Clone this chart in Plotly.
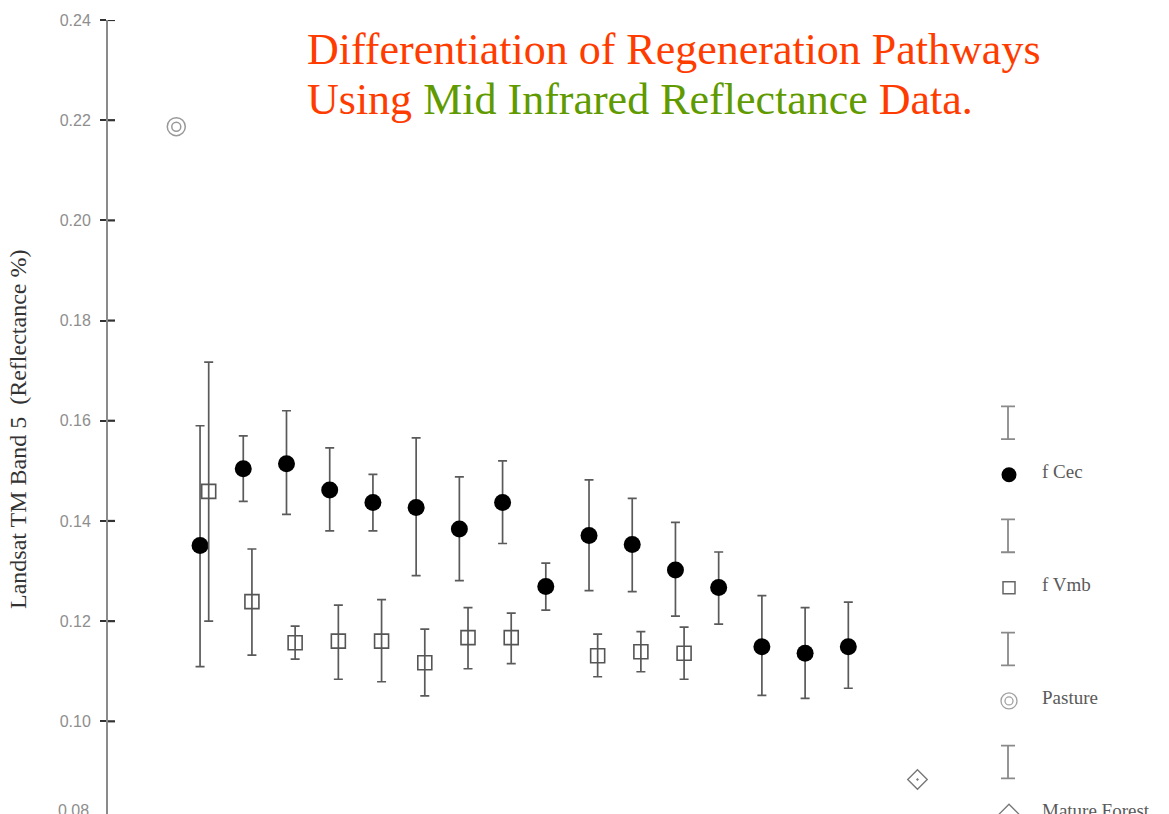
import plotly.graph_objects as go

# Mean Landsat TM band 5 reflectance per regeneration age class, with error-bar bounds
cec_class = [1, 2, 3, 4, 5, 6, 7, 8, 9, 10, 11, 12, 13, 14, 15, 16]
cec_mean = [0.1351, 0.1504, 0.1514, 0.1462, 0.1437, 0.1427, 0.1384, 0.1437,
            0.1269, 0.1371, 0.1353, 0.1302, 0.1267, 0.1149, 0.1136, 0.1149]
cec_high = [0.1590, 0.1570, 0.1620, 0.1546, 0.1493, 0.1566, 0.1488, 0.1520,
            0.1316, 0.1482, 0.1445, 0.1397, 0.1338, 0.1251, 0.1227, 0.1238]
cec_low = [0.1109, 0.1439, 0.1413, 0.1380, 0.1380, 0.1291, 0.1281, 0.1355,
           0.1222, 0.1261, 0.1259, 0.1210, 0.1194, 0.1052, 0.1046, 0.1066]

vmb_class = [1, 2, 3, 4, 5, 6, 7, 8, 10, 11, 12]
vmb_mean = [0.1459, 0.1239, 0.1157, 0.1160, 0.1160, 0.1117, 0.1167, 0.1167,
            0.1131, 0.1139, 0.1136]
vmb_high = [0.1717, 0.1344, 0.1190, 0.1232, 0.1243, 0.1184, 0.1227, 0.1216,
            0.1174, 0.1179, 0.1188]
vmb_low = [0.1200, 0.1132, 0.1124, 0.1084, 0.1079, 0.1051, 0.1105, 0.1115,
           0.1089, 0.1099, 0.1084]

pasture_pos = [0.45]
pasture_val = [0.2187]
forest_pos = [17.6]
forest_val = [0.0884]

y_ticks = [0.10, 0.12, 0.14, 0.16, 0.18, 0.20, 0.22, 0.24]
legend_names = ["f Cec", "f Vmb", "Pasture", "Mature Forest"]

W, H = 1169, 814
ML, MT = 108, 20
PW, PH = W - ML, H - MT


def px_x(p):
    return (p - ML) / PW


def px_y(p):
    return (H - p) / PH


BAR = "#5a5a5a"
GREY = "#777777"
TICK = "#333333"
SERIF = "Liberation Serif, Times New Roman, serif"
SANS = "Liberation Sans, Arial, sans-serif"

fig = go.Figure()

# f Cec: filled black circles
fig.add_trace(go.Scatter(
    x=cec_class, y=cec_mean, mode="markers",
    marker=dict(symbol="circle", size=17, color="black"),
    error_y=dict(type="data", symmetric=False,
                 array=[h - m for h, m in zip(cec_high, cec_mean)],
                 arrayminus=[m - l for m, l in zip(cec_mean, cec_low)],
                 color=BAR, thickness=1.7, width=4.5),
    showlegend=False, cliponaxis=False,
))

# f Vmb: open squares, offset to the right of the class centre
fig.add_trace(go.Scatter(
    x=[c + 0.2 for c in vmb_class], y=vmb_mean, mode="markers",
    marker=dict(symbol="square-open", size=14, color="#555555",
                line=dict(width=1.6)),
    error_y=dict(type="data", symmetric=False,
                 array=[h - m for h, m in zip(vmb_high, vmb_mean)],
                 arrayminus=[m - l for m, l in zip(vmb_mean, vmb_low)],
                 color=BAR, thickness=1.7, width=4.5),
    showlegend=False, cliponaxis=False,
))

# Pasture: concentric open circles
fig.add_trace(go.Scatter(x=pasture_pos * 2, y=pasture_val * 2, mode="markers",
                         marker=dict(symbol="circle-open", size=[18, 9], color="#6e6e6e",
                                     line=dict(width=1.5)),
                         showlegend=False))

# Mature forest: open diamond with centre dot
fig.add_trace(go.Scatter(x=forest_pos, y=forest_val, mode="markers",
                         marker=dict(symbol="diamond-open-dot", size=15, color=GREY,
                                     line=dict(width=1.4)),
                         showlegend=False))

# Hand-built key: error-bar glyph above each symbol, label to the right
rows = list(range(len(legend_names)))
fig.add_trace(go.Scatter(
    x=[18] * len(rows), y=[r - 0.46 for r in rows], mode="markers",
    marker=dict(size=1, color="rgba(0,0,0,0)"),
    error_y=dict(type="constant", value=0.145, color="#8a8a8a",
                 thickness=1.8, width=7),
    xaxis="x3", yaxis="y3", showlegend=False, hoverinfo="skip",
))
fig.add_trace(go.Scatter(x=[19], y=[rows[0]], mode="markers",
                         marker=dict(symbol="circle", size=15, color="black"),
                         xaxis="x3", yaxis="y3", showlegend=False))
fig.add_trace(go.Scatter(x=[19], y=[rows[1]], mode="markers",
                         marker=dict(symbol="square-open", size=12, color="#666666",
                                     line=dict(width=1.5)),
                         xaxis="x3", yaxis="y3", showlegend=False))
fig.add_trace(go.Scatter(x=[19, 19], y=[rows[2], rows[2]], mode="markers",
                         marker=dict(symbol="circle-open", size=[16, 8], color=GREY,
                                     line=dict(width=1.3)),
                         xaxis="x3", yaxis="y3", showlegend=False))
fig.add_trace(go.Scatter(x=[19], y=[rows[3]], mode="markers",
                         marker=dict(symbol="diamond-open", size=15, color=GREY,
                                     line=dict(width=1.3)),
                         xaxis="x3", yaxis="y3", showlegend=False))

annotations = []
for r, name in zip(rows, legend_names):
    annotations.append(dict(x=50, y=r - 0.03, xref="x3", yref="y3", text=name,
                            showarrow=False, xanchor="left", yanchor="middle",
                            font=dict(family=SERIF, size=19, color="#5a5a5a")))

# Title in two lines, with the spectral region highlighted
RED = "#ff3c00"
GREEN = "#5f9a00"
annotations.append(dict(
    x=px_x(305), y=px_y(49), xref="paper", yref="paper",
    text="Differentiation of Regeneration Pathways", showarrow=False,
    xanchor="left", yanchor="middle",
    font=dict(family=SERIF, size=44, color=RED)))
annotations.append(dict(
    x=px_x(305), y=px_y(99), xref="paper", yref="paper",
    text=("Using <span style='color:%s'>Mid Infrared Reflectance</span> Data." % GREEN),
    showarrow=False, xanchor="left", yanchor="middle",
    font=dict(family=SERIF, size=44, color=RED)))

# Rotated y-axis title
annotations.append(dict(
    x=px_x(18), y=px_y(430), xref="paper", yref="paper",
    text="Landsat TM Band 5&nbsp;&nbsp;(Reflectance %)", textangle=-90,
    showarrow=False, xanchor="center", yanchor="middle",
    font=dict(family=SERIF, size=24, color="#333333")))

# Lowest tick label, falling at the bottom edge
annotations.append(dict(
    x=px_x(91), y=px_y(810), xref="paper", yref="paper", text="0.08",
    showarrow=False, xanchor="right", yanchor="middle",
    font=dict(family=SANS, size=16, color="#8e8e8e")))

# Inner half of each tick so the marks cross the axis line
shapes = [dict(type="line", xref="paper", yref="y",
               x0=0, x1=px_x(115), y0=v, y1=v,
               line=dict(color=TICK, width=2.2), layer="above")
          for v in y_ticks]

y_range = [0.0815, 0.24]
tick_text = ["%.2f" % v for v in y_ticks]

fig.update_layout(
    width=W, height=H,
    margin=dict(l=ML, r=0, t=MT, b=0, pad=0),
    paper_bgcolor="white", plot_bgcolor="white",
    xaxis=dict(range=[-1.13, 23.42], visible=False, showgrid=False, zeroline=False),
    yaxis=dict(range=y_range, tickvals=y_ticks, ticktext=tick_text,
               ticks="outside", ticklen=6, tickwidth=2.2, tickcolor=TICK,
               showline=True, linecolor="#8a8a8a", linewidth=2,
               showgrid=False, zeroline=False, ticklabelstandoff=6,
               tickfont=dict(family=SANS, size=16, color="#8e8e8e")),
    xaxis3=dict(domain=[px_x(990), 1.0], range=[0, 179], visible=False,
                anchor="y3"),
    yaxis3=dict(domain=[0.0, px_y(390)], range=[3.0, -0.75], visible=False,
                anchor="x3"),
    annotations=annotations,
    shapes=shapes,
    showlegend=False,
)

fig.write_html("out.html")
